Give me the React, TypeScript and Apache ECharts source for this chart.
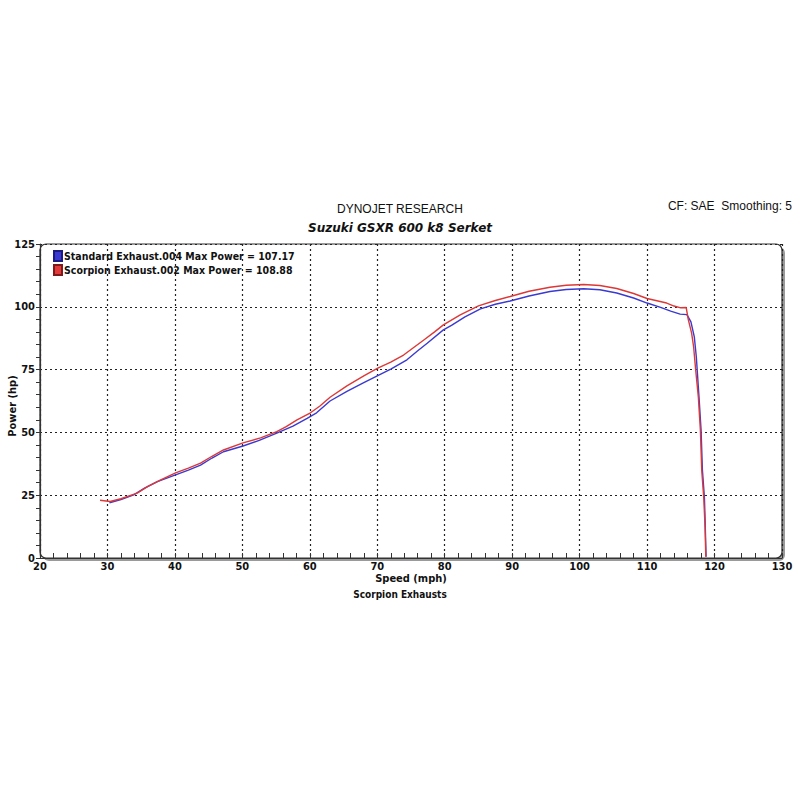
import React, { useEffect, useRef } from "react";
import * as echarts from "echarts";

const standardName = "Standard Exhaust.004 Max Power = 107.17";
const scorpionName = "Scorpion Exhaust.002 Max Power = 108.88";

const standardSpeed = [30.3, 32.0, 33.9, 35.5, 37.4, 40.1, 42.0, 43.8, 45.5, 47.2, 50.1, 52.5, 55.1, 57.5, 59.6, 61.0, 63.0, 65.5, 68.0, 70.0, 72.0, 74.4, 76.0, 77.4, 79.8, 81.0, 83.0, 85.3, 87.5, 89.7, 92.5, 95.6, 98.0, 100.6, 103.0, 105.5, 108.0, 110.0, 112.0, 113.5, 114.9, 115.9, 116.5, 117.0, 117.3, 117.7, 118.0, 118.2, 118.5, 118.6, 118.7, 118.75];
const standardPower = [22.0, 23.3, 25.1, 27.8, 30.4, 33.1, 35.0, 37.0, 39.8, 42.3, 44.6, 46.8, 49.7, 52.5, 55.6, 57.8, 62.5, 66.3, 69.8, 72.5, 75.2, 78.9, 82.5, 85.5, 90.8, 92.6, 96.0, 99.2, 101.0, 102.3, 104.3, 106.1, 106.9, 107.2, 106.8, 105.5, 103.5, 101.5, 99.8, 98.3, 97.1, 96.9, 94.0, 88.0, 80.0, 64.0, 51.0, 35.0, 24.0, 15.0, 5.0, 0.5];

const scorpionSpeed = [28.9, 30.4, 32.0, 34.4, 36.0, 37.9, 40.1, 42.0, 43.8, 45.5, 47.2, 50.1, 52.7, 55.1, 56.5, 58.1, 60.1, 61.5, 63.0, 65.5, 68.0, 70.0, 72.0, 73.9, 75.5, 76.9, 78.5, 79.8, 82.3, 85.0, 87.5, 89.7, 92.5, 95.6, 98.0, 100.6, 103.0, 105.5, 108.0, 110.0, 112.9, 114.0, 115.0, 115.8, 116.1, 116.6, 116.9, 117.2, 117.6, 117.9, 118.1, 118.4, 118.6, 118.7];
const scorpionPower = [23.0, 22.5, 23.6, 25.8, 28.5, 31.1, 33.9, 35.8, 37.8, 40.5, 43.0, 45.8, 47.8, 50.3, 52.3, 55.0, 57.8, 60.5, 64.0, 68.5, 72.5, 75.5, 78.0, 80.8, 84.0, 86.8, 90.0, 92.8, 96.8, 100.4, 102.5, 104.1, 106.2, 107.8, 108.6, 108.9, 108.5, 107.3, 105.3, 103.3, 101.5, 100.3, 99.6, 99.7, 95.0, 89.5, 84.0, 75.0, 64.0, 51.0, 35.0, 24.0, 12.0, 0.5];

const zip = (xs: number[], ys: number[]) => xs.map((x, i) => [x, ys[i]]);

const boldFont = "'DejaVu Sans Condensed', 'DejaVu Sans', sans-serif";

export default function App() {
  const ref = useRef<HTMLDivElement>(null);
  useEffect(() => {
    if (!ref.current) return;
    const chart = echarts.init(ref.current, null, { renderer: "svg" });
    const L = 40, T = 244, R = 782, B = 558;
    chart.setOption({
      animation: false,
      backgroundColor: "#ffffff",
      graphic: [
        { type: "rect", z: -10, shape: { x: L + 3, y: T + 3, width: R - L, height: B - T, r: 6 }, style: { fill: "#9a9a9a" } },
        { type: "rect", z: -9, shape: { x: L, y: T, width: R - L, height: B - T, r: 6 }, style: { fill: "#ffffff", stroke: "#333", lineWidth: 1.2 } },
        { type: "text", left: "center", top: 203, style: { text: "DYNOJET RESEARCH", font: "12px 'Liberation Sans', Arial, sans-serif", fill: "#111" } },
        { type: "text", left: "center", top: 222, style: { text: "Suzuki GSXR 600 k8 Serket", font: "italic bold 12px 'DejaVu Sans', sans-serif", fill: "#111" } },
        { type: "text", right: 8, top: 200, style: { text: "CF: SAE  Smoothing: 5", font: "12px 'Liberation Sans', Arial, sans-serif", fill: "#111" } },
        { type: "text", left: "center", top: 589, style: { text: "Scorpion Exhausts", font: "bold 10px " + boldFont, fill: "#111" } },
        { type: "text", x: 12, y: 406, rotation: Math.PI / 2, style: { text: "Power (hp)", font: "bold 11px " + boldFont, fill: "#111", align: "center", verticalAlign: "middle" } },
      ],
      legend: {
        orient: "vertical",
        left: 48,
        top: 245,
        itemGap: 2,
        itemWidth: 8,
        itemHeight: 10,
        icon: "rect",
        textStyle: { fontFamily: boldFont, fontWeight: "bold", fontSize: 10.5, color: "#111", padding: [0, 0, 0, -3] },
        data: [standardName, scorpionName],
      },
      grid: { left: L, right: 800 - R, top: T, bottom: 800 - B, containLabel: false, outerBoundsMode: "none" },
      xAxis: {
        type: "value",
        min: 20,
        max: 130,
        interval: 10,
        name: "Speed (mph)",
        nameLocation: "middle",
        nameGap: 14,
        nameTextStyle: { fontFamily: boldFont, fontWeight: "bold", fontSize: 11, color: "#111" },
        axisLine: { show: true, lineStyle: { color: "#333", width: 1.2 } },
        axisTick: { show: true, inside: true, length: 5, lineStyle: { color: "#333" } },
        minorTick: { show: true, splitNumber: 5, length: 5, lineStyle: { color: "#333" } },
        axisLabel: { fontFamily: boldFont, fontWeight: "bold", fontSize: 11, color: "#111", margin: 3 },
        splitLine: { show: true, lineStyle: { color: "#222", type: [2, 3], width: 1.2 } },
      },
      yAxis: {
        type: "value",
        min: 0,
        max: 125,
        interval: 25,
        axisLine: { show: true, lineStyle: { color: "#333", width: 1.2 } },
        axisTick: { show: true, length: 4, lineStyle: { color: "#333" } },
        minorTick: { show: true, splitNumber: 5, length: 4, lineStyle: { color: "#333" } },
        axisLabel: { fontFamily: boldFont, fontWeight: "bold", fontSize: 11, color: "#111", margin: 5 },
        splitLine: { show: true, lineStyle: { color: "#222", type: [2, 3], width: 1.2 } },
      },
      series: [
        {
          name: standardName,
          type: "line",
          data: zip(standardSpeed, standardPower),
          showSymbol: false,
          smooth: false,
          lineStyle: { color: "#3a3ad0", width: 1.4 },
          itemStyle: { color: "#3a3ad0", borderColor: "#1a1a80", borderWidth: 1 },
        },
        {
          name: scorpionName,
          type: "line",
          data: zip(scorpionSpeed, scorpionPower),
          showSymbol: false,
          smooth: false,
          lineStyle: { color: "#dd3838", width: 1.4 },
          itemStyle: { color: "#e23a3a", borderColor: "#801a1a", borderWidth: 1 },
        },
      ],
    });
    return () => chart.dispose();
  }, []);
  return <div ref={ref} style={{ position: "fixed", left: 0, top: 0, width: 800, height: 800 }} />;
}
